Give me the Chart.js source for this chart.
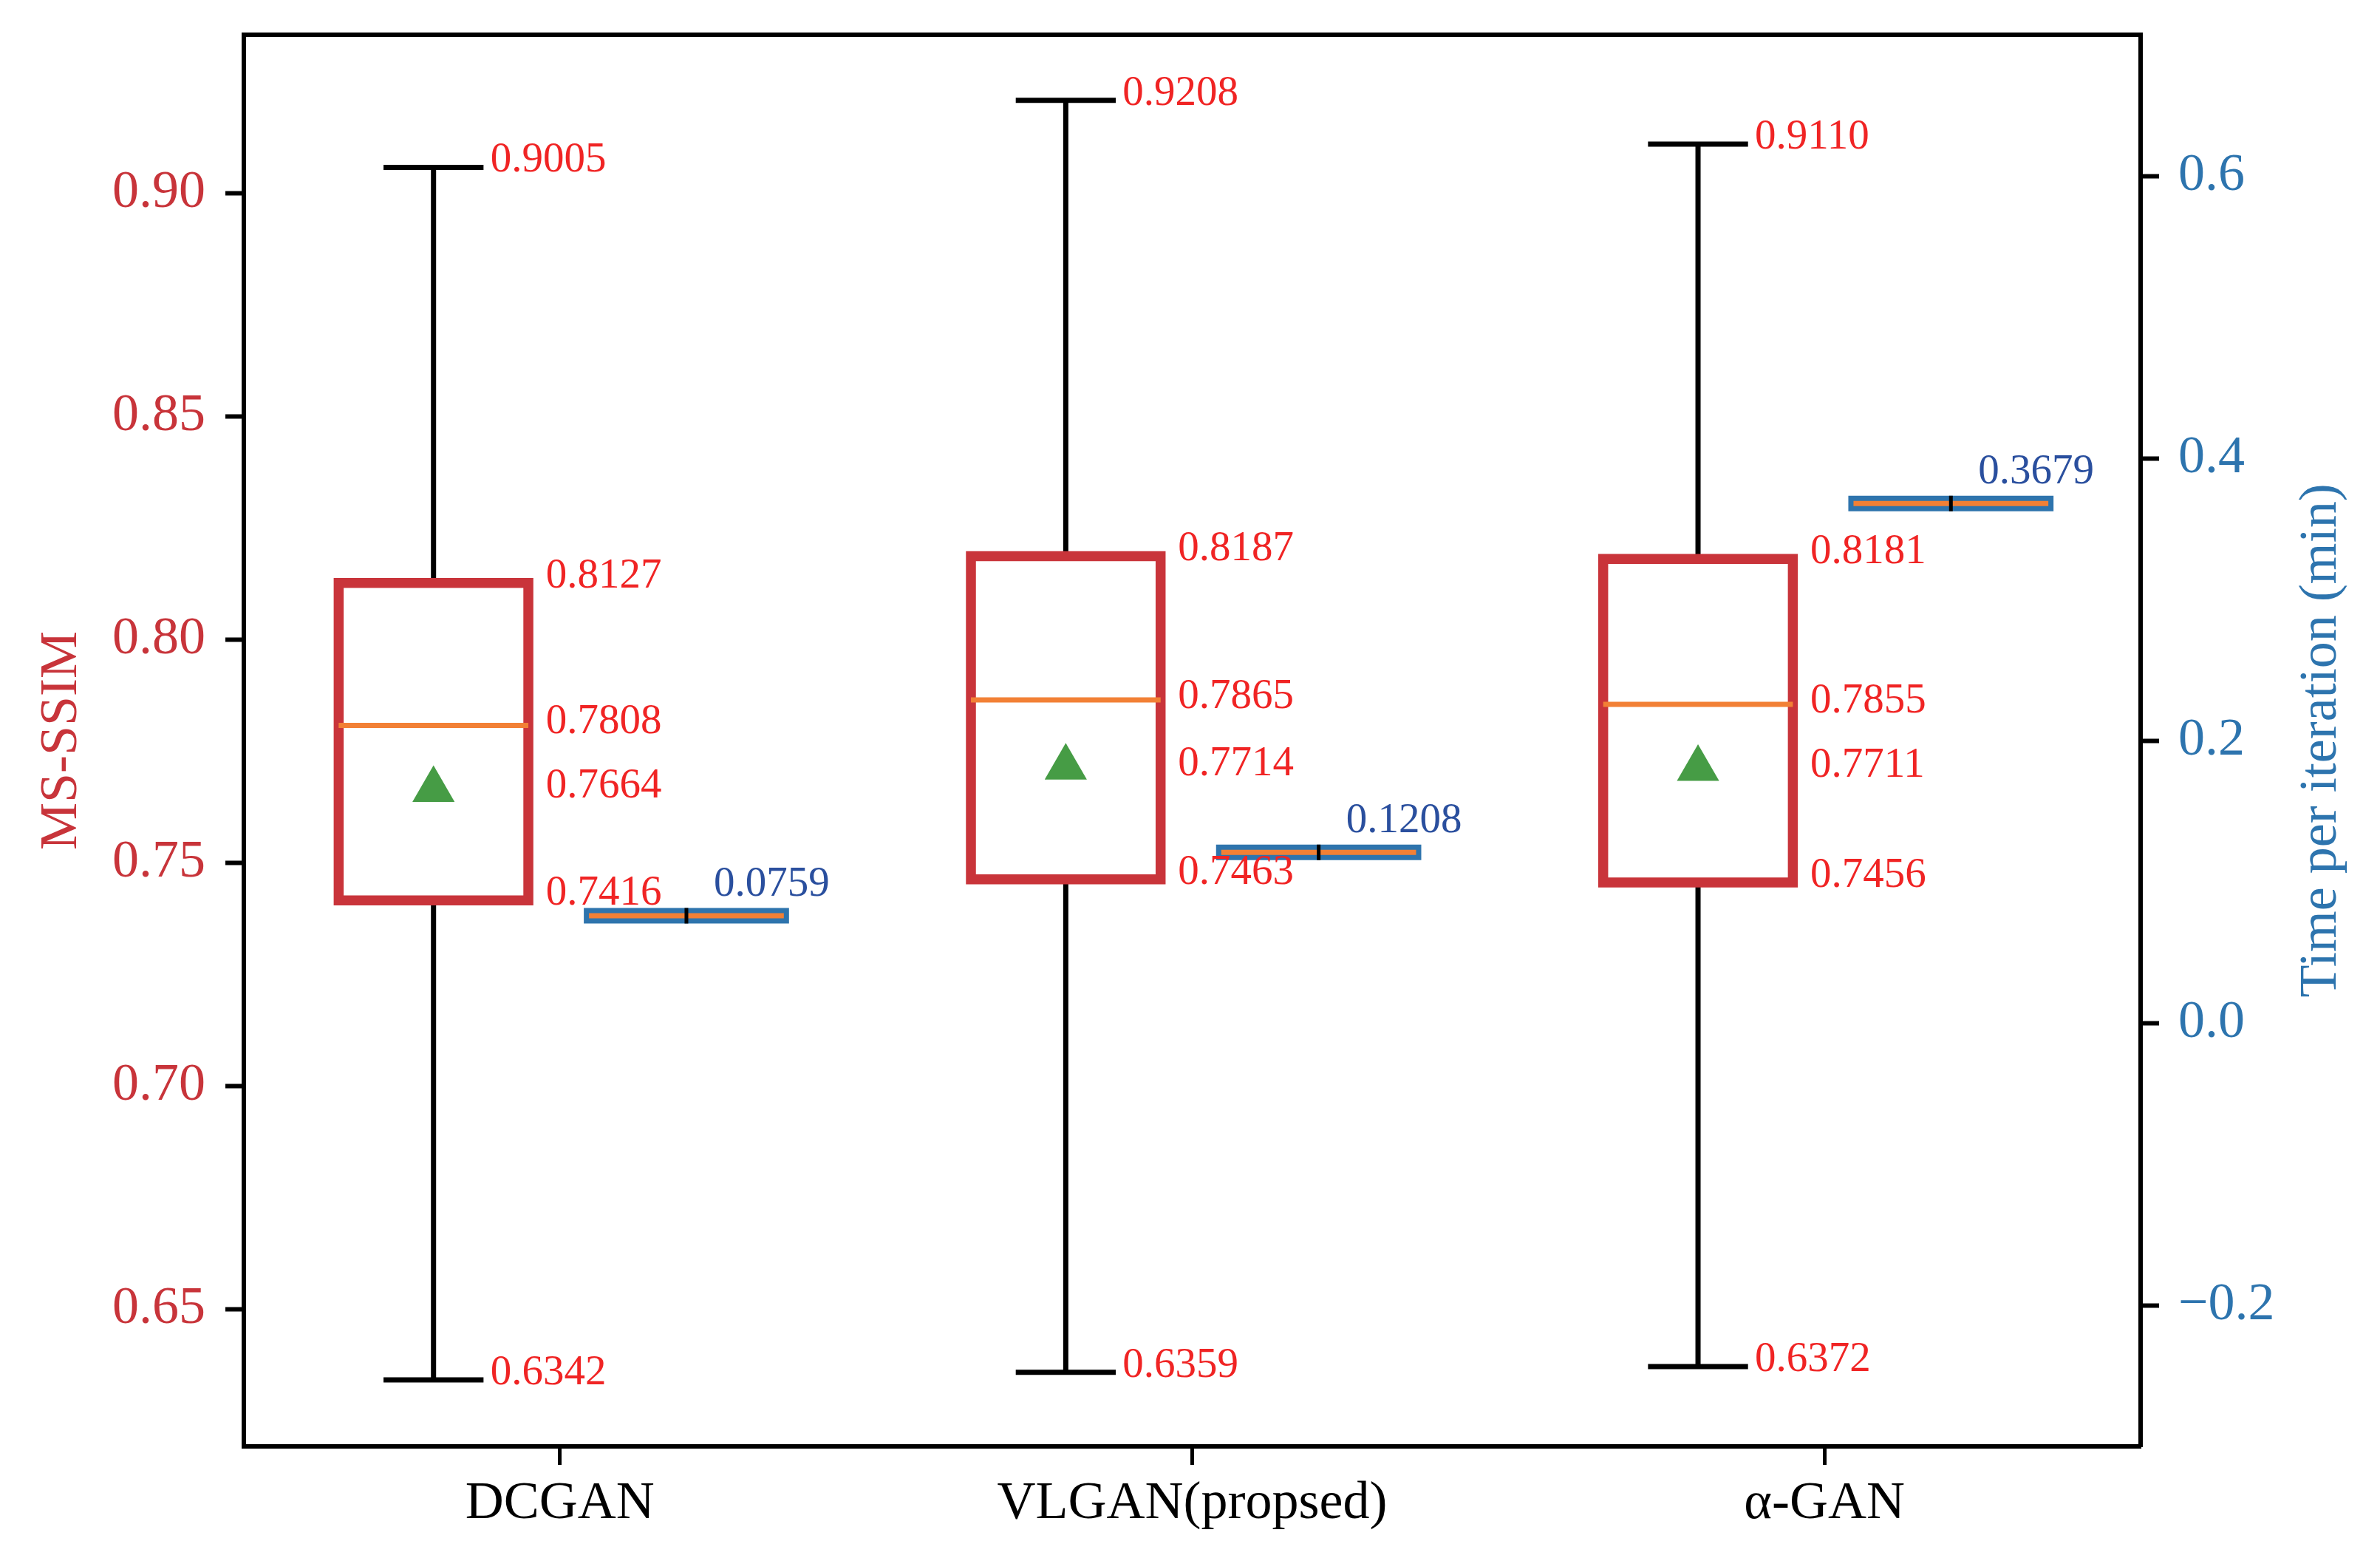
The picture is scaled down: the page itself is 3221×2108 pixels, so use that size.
<!DOCTYPE html>
<html>
<head>
<meta charset="utf-8">
<script src="https://cdn.jsdelivr.net/npm/chart.js@4.4.1/dist/chart.umd.min.js"></script>
<style>
  html, body { margin: 0; padding: 0; background: #ffffff; }
  #wrap { width: 3221px; height: 2108px; }
</style>
</head>
<body>
<div id="wrap"><canvas id="c" width="3221" height="2108"></canvas></div>
<script>
// ---------------- data ----------------
const categories = ['DCGAN', 'VLGAN(propsed)', 'α-GAN'];
const ssimMin    = [0.6342, 0.6359, 0.6372];
const ssimQ1     = [0.7416, 0.7463, 0.7456];
const ssimMedian = [0.7808, 0.7865, 0.7855];
const ssimMean   = [0.7664, 0.7714, 0.7711];
const ssimQ3     = [0.8127, 0.8187, 0.8181];
const ssimMax    = [0.9058, 0.9208, 0.9110];
const ssimMaxText = ['0.9005', '0.9208', '0.9110'];
const timeMin    = [0.0704, 0.1153, 0.3624];
const timeMedian = [0.0759, 0.1208, 0.3679];
const timeMax    = [0.0814, 0.1263, 0.3734];
const ssimTicks  = [0.65, 0.70, 0.75, 0.80, 0.85, 0.90];
const timeTicks  = [-0.2, 0.0, 0.2, 0.4, 0.6];
const xTicks     = [1, 2, 3];

// ---------------- layout constants ----------------
const SSIM_OFF = -0.2, TIME_OFF = 0.2, HALF_BOX = 0.15, HALF_CAP = 0.075;
const FONT = "'Liberation Serif', 'Times New Roman', serif";
const C_RED_AXIS = '#c8343a', C_BLUE_AXIS = '#2d74ae';
const C_BOX = '#c9343a', C_ORANGE = '#f28035', C_GREEN = '#469c45', C_TBOX = '#2e74ad';
const C_LBL_RED = '#f02424', C_LBL_BLUE = '#2a4f9e';

const gap = x => ({ x: x, y: null });
const whiskerPts = [], boxPts = [], medPts = [], meanPts = [];
const tBoxPts = [], tWhiskPts = [];
categories.forEach((_, i) => {
  const c = i + 1 + SSIM_OFF;
  whiskerPts.push(
    { x: c, y: ssimQ3[i] }, { x: c, y: ssimMax[i] }, gap(c),
    { x: c - HALF_CAP, y: ssimMax[i] }, { x: c + HALF_CAP, y: ssimMax[i] }, gap(c),
    { x: c, y: ssimQ1[i] }, { x: c, y: ssimMin[i] }, gap(c),
    { x: c - HALF_CAP, y: ssimMin[i] }, { x: c + HALF_CAP, y: ssimMin[i] }, gap(c));
  boxPts.push(
    { x: c - HALF_BOX, y: ssimQ1[i] }, { x: c + HALF_BOX, y: ssimQ1[i] },
    { x: c + HALF_BOX, y: ssimQ3[i] }, { x: c - HALF_BOX, y: ssimQ3[i] },
    { x: c - HALF_BOX, y: ssimQ1[i] }, gap(c));
  medPts.push({ x: c - HALF_BOX, y: ssimMedian[i] }, { x: c + HALF_BOX, y: ssimMedian[i] }, gap(c));
  meanPts.push({ x: c, y: ssimMean[i] });
  const t = i + 1 + TIME_OFF;
  tBoxPts.push({ x: t - HALF_BOX, y: timeMedian[i] }, { x: t + HALF_BOX, y: timeMedian[i] }, gap(t));
  tWhiskPts.push({ x: t, y: timeMin[i] }, { x: t, y: timeMax[i] }, gap(t));
});

const lineDs = (data, color, width, order, yAxisID, cap) => ({
  type: 'line', data, borderColor: color, borderWidth: width, order, yAxisID,
  showLine: true, fill: false, pointRadius: 0, pointHoverRadius: 0, tension: 0,
  spanGaps: false, borderCapStyle: cap || 'square', borderJoinStyle: 'miter'
});

const labelPlugin = {
  id: 'valueLabels',
  afterDatasetsDraw(chart) {
    const { ctx, scales } = chart;
    const x = scales.x, y = scales.y, y2 = scales.y2;
    ctx.save();
    ctx.font = '57px ' + FONT;
    ctx.textAlign = 'left';
    ctx.textBaseline = 'middle';
    categories.forEach((_, i) => {
      const cx = x.getPixelForValue(i + 1 + SSIM_OFF);
      ctx.fillStyle = C_LBL_RED;
      ctx.fillText(ssimMaxText[i], cx + 77, y.getPixelForValue(ssimMax[i]) - 9);
      ctx.fillText(ssimMin[i].toFixed(4), cx + 77, y.getPixelForValue(ssimMin[i]) - 9);
      ctx.fillText(ssimQ3[i].toFixed(4), cx + 152, y.getPixelForValue(ssimQ3[i]) - 9);
      ctx.fillText(ssimMedian[i].toFixed(4), cx + 152, y.getPixelForValue(ssimMedian[i]) - 4);
      ctx.fillText(ssimMean[i].toFixed(4), cx + 152, y.getPixelForValue(ssimMean[i]) - 4);
      ctx.fillText(ssimQ1[i].toFixed(4), cx + 152, y.getPixelForValue(ssimQ1[i]) - 9);
      const tx = x.getPixelForValue(i + 1 + TIME_OFF);
      ctx.fillStyle = C_LBL_BLUE;
      ctx.fillText(timeMedian[i].toFixed(4), tx + 37, y2.getPixelForValue(timeMedian[i]) - 42);
    });
    ctx.restore();
  },
  afterDraw(chart) {
    const { ctx, chartArea } = chart;
    ctx.save();
    ctx.translate(3142, (chartArea.top + chartArea.bottom) / 2);
    ctx.rotate(-Math.PI / 2);
    ctx.font = '72px ' + FONT;
    ctx.fillStyle = C_BLUE_AXIS;
    ctx.textAlign = 'center';
    ctx.textBaseline = 'middle';
    ctx.fillText('Time per iteration (min)', 0, 0);
    ctx.restore();
  }
};

const noPad = s => { s.paddingTop = 0; s.paddingBottom = 0; s.paddingLeft = 0; s.paddingRight = 0; };

Chart.defaults.font.family = FONT;

new Chart(document.getElementById('c'), {
  type: 'line',
  data: {
    datasets: [
      lineDs(whiskerPts, '#000000', 7, 7, 'y'),
      lineDs(boxPts, C_BOX, 13.5, 6, 'y'),
      lineDs(medPts, C_ORANGE, 7, 5, 'y', 'butt'),
      {
        type: 'line', data: meanPts, showLine: false, order: 4, yAxisID: 'y',
        pointStyle: 'triangle', pointRadius: 33, pointHoverRadius: 33,
        pointBackgroundColor: C_GREEN, pointBorderWidth: 0, borderColor: C_GREEN
      },
      lineDs(tBoxPts, C_TBOX, 21, 3, 'y2', 'square'),
      lineDs(tBoxPts, C_ORANGE, 7, 2, 'y2', 'square'),
      lineDs(tWhiskPts, '#000000', 5, 1, 'y2', 'butt')
    ]
  },
  options: {
    responsive: false,
    maintainAspectRatio: false,
    devicePixelRatio: 1,
    animation: false,
    events: [],
    layout: { padding: { top: 47, left: 0, right: 0, bottom: 0 } },
    plugins: { legend: { display: false }, tooltip: { enabled: false } },
    scales: {
      x: {
        type: 'linear', position: 'bottom', min: 0.5, max: 3.5,
        afterBuildTicks: s => { s.ticks = xTicks.map(v => ({ value: v })); },
        afterFit: s => { s.height = 151; noPad(s); },
        ticks: {
          autoSkip: false, maxRotation: 0, padding: 10, color: '#000000',
          font: { size: 72 },
          callback: v => categories[Math.round(v) - 1]
        },
        grid: { display: true, drawOnChartArea: false, drawTicks: true, tickLength: 25, tickWidth: 5, tickColor: '#000000' },
        border: { display: true, color: '#000000', width: 6 }
      },
      xTop: {
        type: 'linear', position: 'top', min: 0.5, max: 3.5,
        afterFit: s => { s.height = 0; noPad(s); },
        ticks: { display: false },
        grid: { display: true, drawOnChartArea: false, drawTicks: false },
        border: { display: true, color: '#000000', width: 6 }
      },
      y: {
        type: 'linear', position: 'left', min: 0.6193, max: 0.9355,
        afterBuildTicks: s => { s.ticks = ssimTicks.map(v => ({ value: v })); },
        afterFit: s => { s.width = 330; noPad(s); },
        ticks: { padding: 27, color: C_RED_AXIS, font: { size: 72 }, callback: v => v.toFixed(2) },
        grid: { display: true, drawOnChartArea: false, drawTicks: true, tickLength: 25, tickWidth: 6, tickColor: '#000000' },
        border: { display: true, color: '#000000', width: 6 },
        title: { display: true, text: 'MS-SSIM', color: C_RED_AXIS, font: { size: 72 }, padding: { top: 41, bottom: 0 } }
      },
      y2: {
        type: 'linear', position: 'right', min: -0.3, max: 0.7,
        afterBuildTicks: s => { s.ticks = timeTicks.map(v => ({ value: v })); },
        afterFit: s => { s.width = 324; noPad(s); },
        ticks: { padding: 26, color: C_BLUE_AXIS, font: { size: 72 }, callback: v => v.toFixed(1).replace('-', '\u2212') },
        grid: { display: true, drawOnChartArea: false, drawTicks: true, tickLength: 25, tickWidth: 6, tickColor: '#000000' },
        border: { display: true, color: '#000000', width: 6 }
      }
    }
  },
  plugins: [labelPlugin]
});
</script>
</body>
</html>
